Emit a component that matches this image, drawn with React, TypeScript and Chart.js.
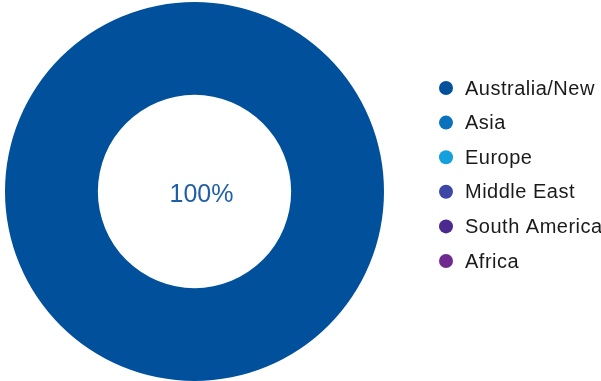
import React, { useEffect, useRef } from "react";
import { Chart, registerables } from "chart.js";

Chart.register(...registerables);

const regions = ["Australia/New Zealand", "Asia", "Europe", "Middle East", "South America", "Africa"];
const shares = [100, 0, 0, 0, 0, 0];
const colors = ["#00509b", "#0a71bd", "#14a0dc", "#3c47a6", "#4b2a8f", "#6e2a8e"];
const centerLabel = "100%";

const FONT = '"Liberation Sans", Arial, sans-serif';

const extras = {
  id: "extras",
  afterDraw(chart: any) {
    const { ctx, chartArea } = chart;
    const cx = (chartArea.left + chartArea.right) / 2;
    const cy = (chartArea.top + chartArea.bottom) / 2;
    ctx.save();
    ctx.fillStyle = "#1f5fa6";
    ctx.font = `300 25px ${FONT}`;
    ctx.textAlign = "center";
    ctx.textBaseline = "middle";
    ctx.fillText(centerLabel, cx + 7, cy + 4);
    // legend
    const labels = chart.data.labels as string[];
    const bg = chart.data.datasets[0].backgroundColor as string[];
    ctx.font = `20px ${FONT}`;
    (ctx as any).letterSpacing = "0.5px";
    ctx.textAlign = "left";
    ctx.textBaseline = "middle";
    labels.forEach((lab, i) => {
      const y = 88 + i * 34.6;
      ctx.fillStyle = bg[i];
      ctx.beginPath();
      ctx.arc(446, y, 7, 0, Math.PI * 2);
      ctx.fill();
      ctx.fillStyle = "#1a1a1a";
      ctx.fillText(lab, 465, y + 1);
    });
    ctx.restore();
  },
};

export default function App() {
  const ref = useRef<HTMLCanvasElement | null>(null);
  useEffect(() => {
    if (!ref.current) return;
    const chart = new Chart(ref.current, {
      type: "doughnut",
      data: {
        labels: regions,
        datasets: [
          {
            data: shares,
            backgroundColor: colors,
            borderWidth: 0,
          },
        ],
      },
      options: {
        animation: false,
        responsive: false,
        cutout: "51%",
        layout: { padding: { top: 2, bottom: 0, left: 5, right: 217 } },
        plugins: {
          legend: { display: false },
          tooltip: { enabled: false },
        },
      },
      plugins: [extras],
    });
    return () => chart.destroy();
  }, []);
  return (
    <div style={{ position: "fixed", left: 0, top: 0, width: 601, height: 381, background: "#fff", overflow: "hidden" }}>
      <canvas ref={ref} width={601} height={381} style={{ width: 601, height: 381 }} />
    </div>
  );
}
